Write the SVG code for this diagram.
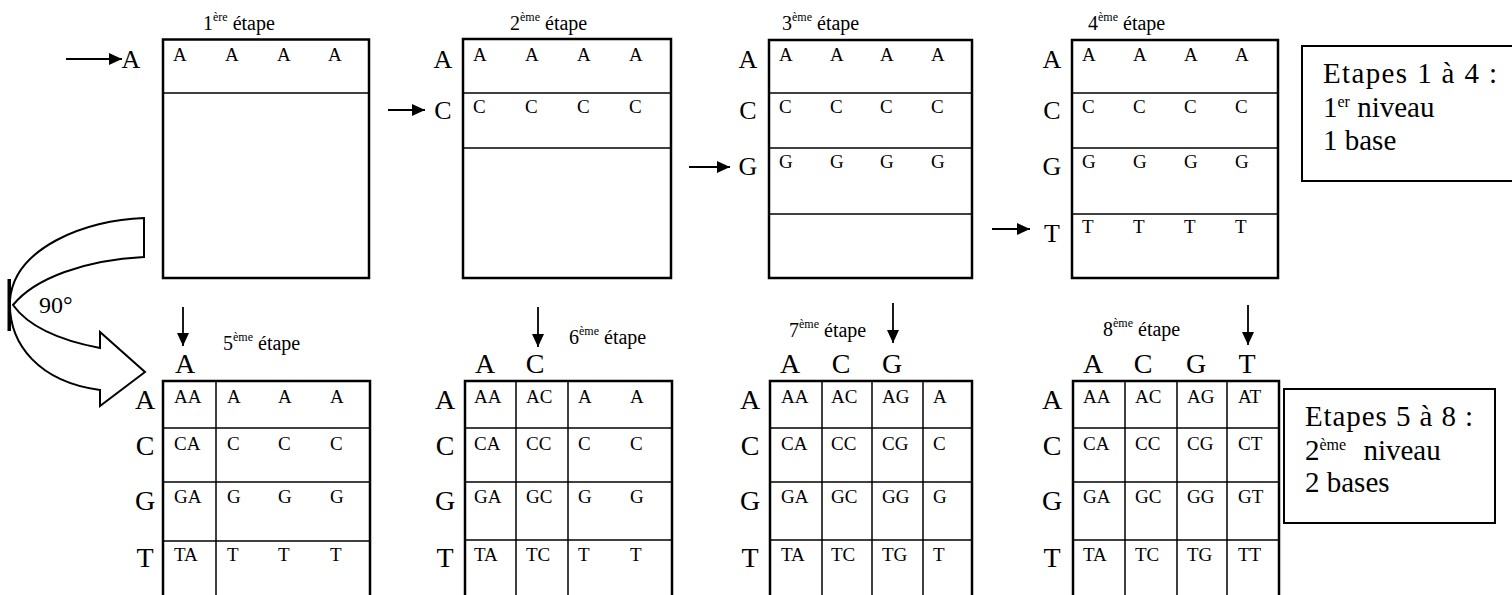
<svg xmlns="http://www.w3.org/2000/svg" width="1512" height="595" viewBox="0 0 1512 595" font-family="'Liberation Serif', 'DejaVu Serif', serif">
<defs>
<marker id="ah" markerUnits="userSpaceOnUse" markerWidth="13" markerHeight="12" refX="13" refY="6" orient="auto"><path d="M0,0 L13,6 L0,12 z" fill="#000"/></marker>
<style>
text{font-family:'Liberation Serif','DejaVu Serif',serif;fill:#000}
.cell{font-size:19px}
.lab{font-size:26px;text-anchor:middle}
.blab{font-size:28px;text-anchor:middle}
.et{font-size:20px}
.sup{font-size:12px}
.bsup{font-size:16px}
.box{font-size:29px}
.outer{fill:none;stroke:#000;stroke-width:2.5}
.ln{stroke:#000;stroke-width:1.5;fill:none}
.arr{stroke:#000;stroke-width:1.8;fill:none;marker-end:url(#ah)}
</style>
</defs>
<rect width="1512" height="595" fill="#fff"/>

<g id="connectors">
<line class="arr" x1="66" y1="59" x2="122" y2="59"/>
<line class="arr" x1="388" y1="110" x2="425" y2="110"/>
<line class="arr" x1="689" y1="167" x2="730" y2="167"/>
<line class="arr" x1="992" y1="229" x2="1030" y2="229"/>
<line class="arr" x1="183" y1="307" x2="183" y2="346"/>
<line class="arr" x1="538" y1="307" x2="538" y2="347"/>
<line class="arr" x1="893" y1="303" x2="893" y2="343"/>
<line class="arr" x1="1248" y1="305" x2="1248" y2="345"/>
</g>

<g id="rotation-arrow">
<path d="M144,218 C85,220 14,248 10,300 C8,345 40,382 100,390 L100,406 L145,372 L100,332 L100,348 C58,340 28,326 13,305 C35,278 85,260 144,257 Z" fill="#fff" stroke="#000" stroke-width="2"/>
<rect x="7.5" y="279" width="3.5" height="52" fill="#000"/>
<text x="39" y="313" style="font-size:24px">90°</text>
</g>

<g id="step1">
<text class="et" x="203" y="30">1<tspan class="sup" dy="-9">ère</tspan><tspan dy="9"> étape</tspan></text>
<rect class="outer" x="163" y="39.5" width="206" height="238.5"/>
<line class="ln" x1="163" y1="93" x2="369" y2="93"/>
<text class="lab" x="131" y="68">A</text>
<g class="cell"><text x="173" y="61">A</text><text x="225" y="61">A</text><text x="277" y="61">A</text><text x="328" y="61">A</text></g>
</g>

<g id="step2">
<text class="et" x="510" y="30">2<tspan class="sup" dy="-9">ème</tspan><tspan dy="9"> étape</tspan></text>
<rect class="outer" x="463" y="39" width="208" height="239"/>
<line class="ln" x1="463" y1="93" x2="671" y2="93"/>
<line class="ln" x1="463" y1="148" x2="671" y2="148"/>
<text class="lab" x="443" y="68">A</text>
<text class="lab" x="443" y="119">C</text>
<g class="cell"><text x="473" y="61">A</text><text x="525" y="61">A</text><text x="577" y="61">A</text><text x="629" y="61">A</text>
<text x="473" y="113">C</text><text x="525" y="113">C</text><text x="577" y="113">C</text><text x="629" y="113">C</text></g>
</g>

<g id="step3">
<text class="et" x="782" y="30">3<tspan class="sup" dy="-9">ème</tspan><tspan dy="9"> étape</tspan></text>
<rect class="outer" x="769" y="40" width="203" height="238"/>
<line class="ln" x1="769" y1="93" x2="972" y2="93"/>
<line class="ln" x1="769" y1="148" x2="972" y2="148"/>
<line class="ln" x1="769" y1="214" x2="972" y2="214"/>
<text class="lab" x="748" y="68">A</text>
<text class="lab" x="748" y="119">C</text>
<text class="lab" x="748" y="175">G</text>
<g class="cell"><text x="779" y="61">A</text><text x="830" y="61">A</text><text x="880" y="61">A</text><text x="931" y="61">A</text>
<text x="779" y="113">C</text><text x="830" y="113">C</text><text x="880" y="113">C</text><text x="931" y="113">C</text>
<text x="779" y="168">G</text><text x="830" y="168">G</text><text x="880" y="168">G</text><text x="931" y="168">G</text></g>
</g>

<g id="step4">
<text class="et" x="1088" y="30">4<tspan class="sup" dy="-9">ème</tspan><tspan dy="9"> étape</tspan></text>
<rect class="outer" x="1072" y="40" width="206" height="238"/>
<line class="ln" x1="1072" y1="93" x2="1278" y2="93"/>
<line class="ln" x1="1072" y1="148" x2="1278" y2="148"/>
<line class="ln" x1="1072" y1="214" x2="1278" y2="214"/>
<text class="lab" x="1052" y="68">A</text>
<text class="lab" x="1052" y="119">C</text>
<text class="lab" x="1052" y="175">G</text>
<text class="lab" x="1052" y="242">T</text>
<g class="cell"><text x="1082" y="61">A</text><text x="1133" y="61">A</text><text x="1184" y="61">A</text><text x="1235" y="61">A</text>
<text x="1082" y="113">C</text><text x="1133" y="113">C</text><text x="1184" y="113">C</text><text x="1235" y="113">C</text>
<text x="1082" y="168">G</text><text x="1133" y="168">G</text><text x="1184" y="168">G</text><text x="1235" y="168">G</text>
<text x="1082" y="233">T</text><text x="1133" y="233">T</text><text x="1184" y="233">T</text><text x="1235" y="233">T</text></g>
</g>

<g id="note1">
<path d="M1512,46 H1302 V181 H1512" fill="none" stroke="#000" stroke-width="2"/>
<text class="box" x="1323" y="83" textLength="174" lengthAdjust="spacing">Etapes 1 à 4 :</text>
<text class="box" x="1323" y="117">1<tspan class="bsup" dy="-10">er</tspan><tspan dy="10"> niveau</tspan></text>
<text class="box" x="1323" y="150">1 base</text>
</g>

<g id="step5">
<text class="et" x="223" y="350">5<tspan class="sup" dy="-9">ème</tspan><tspan dy="9"> étape</tspan></text>
<text class="blab" x="185" y="373">A</text>
<path class="outer" d="M163,600 V381 H370 V600"/>
<line class="ln" x1="163" y1="428" x2="370" y2="428"/>
<line class="ln" x1="163" y1="482" x2="370" y2="482"/>
<line class="ln" x1="163" y1="541" x2="370" y2="541"/>
<line class="ln" x1="216" y1="381" x2="216" y2="600"/>
<text class="blab" x="145" y="409">A</text><text class="blab" x="145" y="455">C</text><text class="blab" x="145" y="510">G</text><text class="blab" x="145" y="567">T</text>
<g class="cell">
<text x="174" y="403">AA</text><text x="227" y="403">A</text><text x="278" y="403">A</text><text x="330" y="403">A</text>
<text x="174" y="450">CA</text><text x="227" y="450">C</text><text x="278" y="450">C</text><text x="330" y="450">C</text>
<text x="174" y="503">GA</text><text x="227" y="503">G</text><text x="278" y="503">G</text><text x="330" y="503">G</text>
<text x="174" y="561">TA</text><text x="227" y="561">T</text><text x="278" y="561">T</text><text x="330" y="561">T</text>
</g>
</g>

<g id="step6">
<text class="et" x="569" y="344">6<tspan class="sup" dy="-9">ème</tspan><tspan dy="9"> étape</tspan></text>
<text class="blab" x="485" y="373">A</text><text class="blab" x="535" y="373">C</text>
<path class="outer" d="M465,600 V381 H672 V600"/>
<line class="ln" x1="465" y1="428" x2="672" y2="428"/>
<line class="ln" x1="465" y1="482" x2="672" y2="482"/>
<line class="ln" x1="465" y1="540" x2="672" y2="540"/>
<line class="ln" x1="516" y1="381" x2="516" y2="600"/>
<line class="ln" x1="568" y1="381" x2="568" y2="600"/>
<text class="blab" x="445" y="409">A</text><text class="blab" x="445" y="455">C</text><text class="blab" x="445" y="510">G</text><text class="blab" x="445" y="567">T</text>
<g class="cell">
<text x="474" y="403">AA</text><text x="526" y="403">AC</text><text x="578" y="403">A</text><text x="630" y="403">A</text>
<text x="474" y="450">CA</text><text x="526" y="450">CC</text><text x="578" y="450">C</text><text x="630" y="450">C</text>
<text x="474" y="503">GA</text><text x="526" y="503">GC</text><text x="578" y="503">G</text><text x="630" y="503">G</text>
<text x="474" y="561">TA</text><text x="526" y="561">TC</text><text x="578" y="561">T</text><text x="630" y="561">T</text>
</g>
</g>

<g id="step7">
<text class="et" x="789" y="337">7<tspan class="sup" dy="-9">ème</tspan><tspan dy="9"> étape</tspan></text>
<text class="blab" x="790" y="373">A</text><text class="blab" x="841" y="373">C</text><text class="blab" x="892" y="373">G</text>
<path class="outer" d="M770,600 V381 H972 V600"/>
<line class="ln" x1="770" y1="428" x2="972" y2="428"/>
<line class="ln" x1="770" y1="482" x2="972" y2="482"/>
<line class="ln" x1="770" y1="540" x2="972" y2="540"/>
<line class="ln" x1="822" y1="381" x2="822" y2="600"/>
<line class="ln" x1="872" y1="381" x2="872" y2="600"/>
<line class="ln" x1="923" y1="381" x2="923" y2="600"/>
<text class="blab" x="750" y="409">A</text><text class="blab" x="750" y="455">C</text><text class="blab" x="750" y="510">G</text><text class="blab" x="750" y="567">T</text>
<g class="cell">
<text x="781" y="403">AA</text><text x="831" y="403">AC</text><text x="882" y="403">AG</text><text x="933" y="403">A</text>
<text x="781" y="450">CA</text><text x="831" y="450">CC</text><text x="882" y="450">CG</text><text x="933" y="450">C</text>
<text x="781" y="503">GA</text><text x="831" y="503">GC</text><text x="882" y="503">GG</text><text x="933" y="503">G</text>
<text x="781" y="561">TA</text><text x="831" y="561">TC</text><text x="882" y="561">TG</text><text x="933" y="561">T</text>
</g>
</g>

<g id="step8">
<text class="et" x="1103" y="336">8<tspan class="sup" dy="-9">ème</tspan><tspan dy="9"> étape</tspan></text>
<text class="blab" x="1093" y="373">A</text><text class="blab" x="1143" y="373">C</text><text class="blab" x="1196" y="373">G</text><text class="blab" x="1247" y="373">T</text>
<path class="outer" d="M1073,600 V381 H1279 V600"/>
<line class="ln" x1="1073" y1="428" x2="1279" y2="428"/>
<line class="ln" x1="1073" y1="482" x2="1279" y2="482"/>
<line class="ln" x1="1073" y1="540" x2="1279" y2="540"/>
<line class="ln" x1="1125" y1="381" x2="1125" y2="600"/>
<line class="ln" x1="1177" y1="381" x2="1177" y2="600"/>
<line class="ln" x1="1227" y1="381" x2="1227" y2="600"/>
<text class="blab" x="1052" y="409">A</text><text class="blab" x="1052" y="455">C</text><text class="blab" x="1052" y="510">G</text><text class="blab" x="1052" y="567">T</text>
<g class="cell">
<text x="1083" y="403">AA</text><text x="1135" y="403">AC</text><text x="1187" y="403">AG</text><text x="1238" y="403">AT</text>
<text x="1083" y="450">CA</text><text x="1135" y="450">CC</text><text x="1187" y="450">CG</text><text x="1238" y="450">CT</text>
<text x="1083" y="503">GA</text><text x="1135" y="503">GC</text><text x="1187" y="503">GG</text><text x="1238" y="503">GT</text>
<text x="1083" y="561">TA</text><text x="1135" y="561">TC</text><text x="1187" y="561">TG</text><text x="1238" y="561">TT</text>
</g>
</g>

<g id="note2">
<rect x="1284" y="389" width="211" height="134" fill="none" stroke="#000" stroke-width="2"/>
<text class="box" x="1305" y="426" textLength="168" lengthAdjust="spacing">Etapes 5 à 8 :</text>
<text class="box" x="1305" y="460">2<tspan class="bsup" dy="-10">ème</tspan><tspan dy="10" dx="10"> niveau</tspan></text>
<text class="box" x="1305" y="492">2 bases</text>
</g>
</svg>
